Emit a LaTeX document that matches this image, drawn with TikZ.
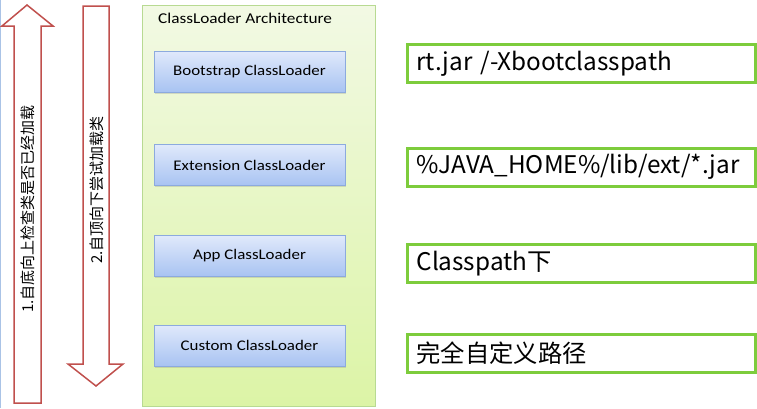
\documentclass[tikz,border=0pt]{standalone}
\usepackage{fontspec}
\setmainfont{Carlito}
\newfontfamily\cjk{Noto Sans CJK SC}
\newfontfamily\loaderfont[FakeStretch=1.15]{Carlito}
\usetikzlibrary{shadows}

\definecolor{arrowred}{RGB}{192,80,77}
\definecolor{archtop}{RGB}{242,249,228}
\definecolor{archbot}{RGB}{220,244,166}
\definecolor{archline}{RGB}{184,218,146}
\definecolor{loadtop}{RGB}{224,233,251}
\definecolor{loadbot}{RGB}{168,195,242}
\definecolor{loadline}{RGB}{140,170,222}
\definecolor{pathgreen}{RGB}{125,204,60}
\definecolor{edgeblue}{RGB}{170,195,230}

\tikzset{
	loader/.style={rectangle,draw=loadline,top color=loadtop,bottom color=loadbot,
		minimum width=191pt,minimum height=41pt,inner sep=0pt,
		drop shadow={shadow xshift=1pt,shadow yshift=-1.5pt,opacity=0.25},
		font=\loaderfont\fontsize{14.7}{17}\selectfont},
	pathbox/.style={rectangle,draw=pathgreen,line width=3pt,fill=white,
		minimum height=38pt,text width=330pt,inner xsep=9pt,align=left,
		font=\cjk\fontsize{24.3}{27}\selectfont},
	bigarrow/.style={draw=arrowred,line width=1.5pt,fill=white,line join=miter}
}

\begin{document}
\begin{tikzpicture}[x=1pt,y=-1pt]
		\useasboundingbox (0,0) rectangle (757,408);
%		\draw[help lines] (0,0) grid[step=50] (757,408);
		\path (27,5) coordinate (up_tip);
		\path (2,26) coordinate (up_wl);
		\path (53,26) coordinate (up_wr);
		\path (14,26) coordinate (up_sl);
		\path (41,26) coordinate (up_sr);
		\path (14,403) coordinate (up_bl);
		\path (41,403) coordinate (up_br);

		\path (96,386) coordinate (down_tip);
		\path (68,364) coordinate (down_wl);
		\path (123,364) coordinate (down_wr);
		\path (83,364) coordinate (down_sl);
		\path (109,364) coordinate (down_sr);
		\path (83,6) coordinate (down_tl);
		\path (109,6) coordinate (down_tr);

		\draw[edgeblue,line width=1pt] (0.5,0) -- (0.5,408);

		\draw[bigarrow] (up_tip) -- (up_wr) -- (up_sr) -- (up_br) -- (up_bl) -- (up_sl) -- (up_wl) -- cycle;
		\draw[bigarrow] (down_tip) -- (down_wl) -- (down_sl) -- (down_tl) -- (down_tr) -- (down_sr) -- (down_wr) -- cycle;

		\node[rotate=90,font=\cjk\fontsize{15}{17}\selectfont] (upword) at (28,209) {1.自底向上检查类是否已经加载};
		\node[rotate=90,font=\cjk\fontsize{15}{17}\selectfont] (downword) at (97,190) {2.自顶向下尝试加载类};

		\draw[archline,top color=archtop,bottom color=archbot] (142,5) rectangle (375,406);
		\node[anchor=west,inner sep=0pt,font=\loaderfont\fontsize{15}{17}\selectfont] (arch) at (158,18) {ClassLoader Architecture};

		\node[loader] (boot) at (249.5,71.5) {Bootstrap ClassLoader};
		\node[loader] (ext) at (249.5,165) {Extension ClassLoader};
		\node[loader] (app) at (249.5,256) {App ClassLoader};
		\node[loader] (custom) at (249.5,345.5) {Custom ClassLoader};

		\node[pathbox] (bootpath) at (581.5,63.5) {rt.jar /-Xbootclasspath};
		\node[pathbox] (extpath) at (581.5,167) {\%JAVA\_HOME\%/lib/ext/*.jar};
		\node[pathbox] (apppath) at (581.5,263.5) {Classpath下};
		\node[pathbox] (custompath) at (581.5,353) {完全自定义路径};

	\end{tikzpicture}
\end{document}
